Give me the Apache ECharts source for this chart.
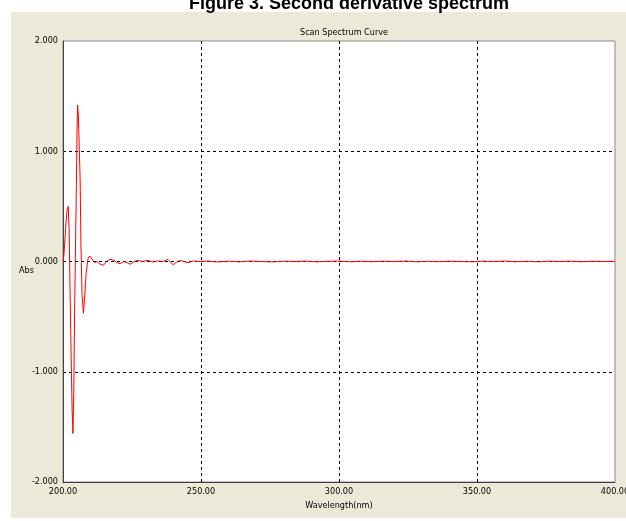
<!DOCTYPE html>
<html>
<head>
<meta charset="utf-8">
<script src="https://cdn.jsdelivr.net/npm/echarts@6/dist/echarts.min.js"></script>
<style>
html,body{margin:0;padding:0;background:#fff;overflow:hidden;}
#bg{position:absolute;left:11px;top:12px;width:615px;height:506px;background:#ECE9D8;}
#chart{position:absolute;left:0;top:0;width:626px;height:521px;}
</style>
</head>
<body>
<div id="bg"></div>
<div id="chart"></div>
<script>
var chartTitle = 'Figure 3. Second derivative spectrum';
var plotTitle = 'Scan Spectrum Curve';
var xAxisName = 'Wavelength(nm)';
var yAxisName = 'Abs';

var wavelength = [
  200.0, 200.3, 200.6, 201.1, 201.5, 201.9, 202.2, 202.4, 202.8, 203.3,
  203.6, 203.9, 204.2, 204.8, 205.1, 205.3, 205.6, 206.2, 206.5, 206.9,
  207.4, 207.9, 208.4, 209.1, 209.7, 210.3, 210.9, 211.5, 212.3, 213.2,
  214.6, 215.8, 217.0, 218.5, 219.5, 220.7, 222.0, 223.2, 224.3, 225.8,
  227.2, 228.9, 230.8, 232.5, 234.5, 236.3, 238.0, 239.9, 241.2, 242.4,
  243.8, 245.3, 247.2, 249.6,
  252, 256, 260, 264, 268, 272, 276, 280, 284, 288,
  292, 296, 300, 304, 308, 312, 316, 320, 324, 328,
  332, 336, 340, 344, 348, 352, 356, 360, 364, 368,
  372, 376, 380, 384, 388, 392, 396, 400
];
var absorbance = [
  0.00, 0.05, 0.16, 0.36, 0.47, 0.50, 0.30, 0.00, -0.65, -1.34,
  -1.56, -1.20, -0.46, 0.60, 1.20, 1.42, 1.30, 0.75, 0.15, -0.30,
  -0.47, -0.30, -0.10, 0.03, 0.05, 0.04, 0.01, -0.01, 0.00, -0.02,
  -0.035, 0.00, 0.02, 0.01, -0.01, -0.02, 0.00, -0.01, -0.025, 0.00,
  0.01, 0.00, 0.01, -0.005, 0.005, 0.00, 0.02, -0.03, -0.005, 0.01,
  0.00, -0.01, 0.005, 0.00,
  0.005, -0.004, 0.003, -0.003, 0.004, 0.000, -0.004, 0.003, 0.000, 0.004,
  -0.003, 0.002, 0.004, -0.003, 0.003, -0.002, 0.003, 0.000, 0.004, -0.003,
  0.002, -0.002, 0.003, 0.000, -0.003, 0.003, 0.000, 0.004, -0.002, 0.002,
  -0.003, 0.003, 0.000, 0.003, -0.002, 0.002, 0.000, 0.002
];

var seriesData = wavelength.map(function (w, i) { return [w, absorbance[i]]; });
var narrow = '"DejaVu Sans Condensed", "Liberation Sans Narrow", sans-serif';

var chart = echarts.init(document.getElementById('chart'), null, {renderer: 'canvas'});
chart.setOption({
  animation: false,
  backgroundColor: 'transparent',
  title: [{
    text: chartTitle,
    left: 344,
    textAlign: 'center',
    top: -10,
    textStyle: {fontFamily: '"Liberation Sans", Arial, sans-serif', fontWeight: 'bold', fontSize: 18, color: '#000'}
  }, {
    text: plotTitle,
    left: 339,
    textAlign: 'center',
    top: 23,
    textStyle: {fontFamily: narrow, fontWeight: 'normal', fontSize: 9, color: '#000'}
  }],
  graphic: [{
    type: 'text',
    left: 19,
    top: 266,
    style: {text: yAxisName, font: '9px ' + narrow, fill: '#000'}
  }],
  grid: {
    left: 63, right: 11, top: 41, bottom: 39,
    outerBoundsMode: 'none',
    containLabel: false,
    show: true,
    backgroundColor: '#fff',
    borderColor: '#8a8a8a',
    borderWidth: 1
  },
  xAxis: {
    type: 'value',
    min: 200, max: 400, interval: 50,
    name: xAxisName,
    nameLocation: 'middle',
    nameGap: 16,
    nameTextStyle: {fontFamily: narrow, fontSize: 9, color: '#000'},
    axisLine: {show: true, onZero: false, lineStyle: {color: '#404040', width: 1}},
    axisTick: {show: false},
    axisLabel: {
      formatter: function (v) { return v.toFixed(2); },
      fontFamily: narrow, fontSize: 9, color: '#000', margin: 5
    },
    splitLine: {show: true, showMinLine: false, showMaxLine: false, lineStyle: {color: '#000', type: [3, 3], width: 1}}
  },
  yAxis: {
    type: 'value',
    min: -2, max: 2, interval: 1,
    axisLine: {show: true, onZero: false, lineStyle: {color: '#404040', width: 1}},
    axisTick: {show: false},
    axisLabel: {
      formatter: function (v) { return v.toFixed(3); },
      fontFamily: narrow, fontSize: 9, color: '#000', margin: 5
    },
    splitLine: {show: true, showMinLine: false, showMaxLine: false, lineStyle: {color: '#000', type: [3, 3], width: 1}}
  },
  series: [{
    type: 'line',
    data: seriesData,
    showSymbol: false,
    symbol: 'none',
    smooth: false,
    lineStyle: {color: '#ff0000', width: 1},
    z: 5
  }]
});
</script>
</body>
</html>
